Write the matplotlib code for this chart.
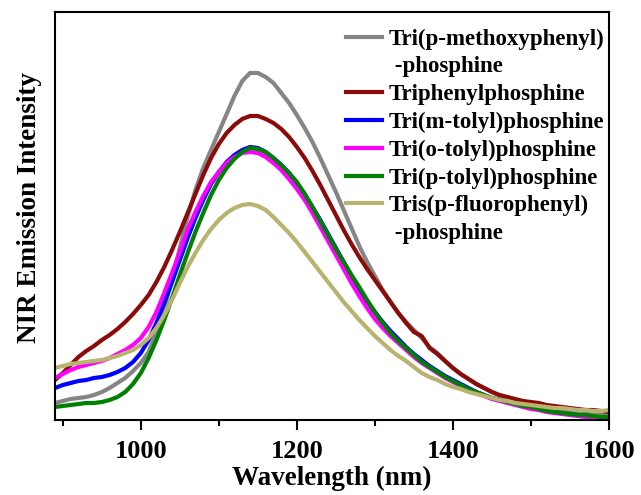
import numpy as np
import matplotlib.pyplot as plt
from matplotlib.lines import Line2D
plt.rcParams["font.family"] = "Liberation Serif"
plt.rcParams["font.weight"] = "bold"

# wavelength grid, nm
wl = list(range(890, 1601, 10))

methoxy = [17, 19, 21, 22, 23, 25, 28, 32, 37, 42, 49, 57, 68, 88, 112, 140, 172, 203,
           230, 252, 270, 288, 306, 324, 339, 347, 347, 343, 337, 327, 317, 305, 292, 278,
           262, 245, 228, 210, 192, 174, 158, 144, 130, 118, 107, 98, 90, 82, 73, 67,
           59, 52, 46, 41, 36, 32, 28, 24, 21, 19, 17, 15, 14, 13, 12, 11, 10, 9,
           8, 7, 6, 5]
triphenyl = [40, 47, 55, 63, 69, 74, 80, 85, 91, 98, 106, 115, 125, 138, 153, 170, 188, 207,
             226, 245, 262, 276, 287, 295, 301, 304, 304, 301, 297, 291, 283, 273, 262, 249,
             235, 220, 205, 190, 176, 163, 151, 140, 129, 118, 107, 97, 88, 84, 72, 66,
             59, 52, 46, 41, 36, 32, 28, 25, 23, 21, 19, 18, 17, 15, 14, 13, 12, 11,
             10, 10, 9, 8]
m_tolyl = [32, 35, 37, 39, 40, 42, 43, 45, 48, 52, 58, 67, 80, 97, 117, 138, 160, 182,
           202, 220, 236, 248, 258, 265, 270, 273, 272, 268, 262, 255, 247, 237, 226, 213,
           200, 186, 172, 158, 144, 131, 119, 108, 98, 89, 81, 73, 66, 60, 54, 49,
           44, 40, 36, 32, 28, 25, 22, 20, 18, 16, 14, 12, 11, 9, 8, 7, 6, 5,
           4, 3, 2, 1]
o_tolyl = [42, 46, 50, 53, 55, 57, 59, 62, 66, 70, 75, 82, 93, 108, 127, 147, 168, 190,
           208, 224, 238, 248, 257, 263, 267, 268, 267, 263, 257, 250, 241, 231, 220, 207,
           193, 179, 165, 151, 137, 124, 112, 101, 92, 84, 77, 70, 63, 57, 52, 47,
           42, 38, 34, 30, 27, 24, 21, 19, 17, 15, 13, 11, 10, 8, 7, 6, 5, 4,
           3, 2, 1, 1]
p_tolyl = [13, 14, 15, 16, 17, 17, 18, 20, 23, 28, 36, 47, 62, 80, 100, 122, 145, 167,
           188, 207, 225, 240, 252, 261, 268, 272, 271, 268, 262, 255, 247, 238, 226, 213,
           199, 185, 171, 158, 145, 133, 120, 108, 97, 87, 79, 72, 65, 58, 53, 48,
           43, 39, 35, 31, 28, 25, 22, 20, 18, 16, 14, 13, 11, 9, 8, 7, 6, 5,
           5, 4, 3, 3]
fluoro = [52, 54, 56, 57, 58, 59, 60, 62, 64, 67, 70, 75, 82, 92, 105, 120, 137, 153,
          167, 180, 191, 200, 207, 212, 215, 216, 214, 210, 203, 195, 187, 178, 168, 158,
          148, 138, 128, 118, 109, 100, 92, 84, 77, 70, 64, 59, 53, 47, 43, 40,
          36, 33, 31, 28, 26, 24, 22, 20, 19, 17, 16, 15, 14, 13, 12, 12, 11, 10,
          10, 9, 9, 10]

names = ["Tri(p-methoxyphenyl)", "Triphenylphosphine", "Tri(m-tolyl)phosphine",
         "Tri(o-tolyl)phosphine", "Tri(p-tolyl)phosphine", "Tris(p-fluorophenyl)"]
colors = ["#858585", "#8b0a0a", "#0000ff", "#ff00ff", "#008000", "#b8b36e"]
series = [methoxy, triphenyl, m_tolyl, o_tolyl, p_tolyl, fluoro]

fig = plt.figure(figsize=(6.41, 4.95), dpi=100)
ax = fig.add_axes([0.0858, 0.1515, 0.8642, 0.8243])

lines = []
for y, c, n in zip(series, colors, names):
    ln, = ax.plot(wl, y, color=c, lw=3, label=n)
    lines.append(ln)

# second line of the long names gets its own row without a handle
blank = Line2D([], [], color="none")
handles = [lines[0], blank] + lines[1:] + [blank]
labels = [names[0], " -phosphine"] + names[1:] + [" -phosphine"]
ax.legend(handles, labels, loc="upper right", bbox_to_anchor=(1.017, 0.993), frameon=False,
          fontsize=16.5, labelspacing=0.29, handlelength=1.55, handletextpad=0.3,
          borderaxespad=0.2)

ax.set_xlim(890, 1600)
ax.set_ylim(0, 408)
ax.set_xticks([1000, 1200, 1400, 1600])
ax.set_xticks([900, 1100, 1300, 1500], minor=True)
ax.set_yticks([])
ax.tick_params(axis="x", which="major", length=7, width=1.5, labelsize=19, pad=7.5)
ax.tick_params(axis="x", which="minor", length=4.5, width=1.5)
for s in ax.spines.values():
    s.set_linewidth(1.5)

ax.set_xlabel("Wavelength (nm)", fontsize=19.5, fontweight="bold", labelpad=2)
ax.set_ylabel("NIR Emission Intensity", fontsize=19.5, fontweight="bold")
ax.yaxis.set_label_coords(-0.023, 0.52)

plt.savefig("out.png", dpi=100)
